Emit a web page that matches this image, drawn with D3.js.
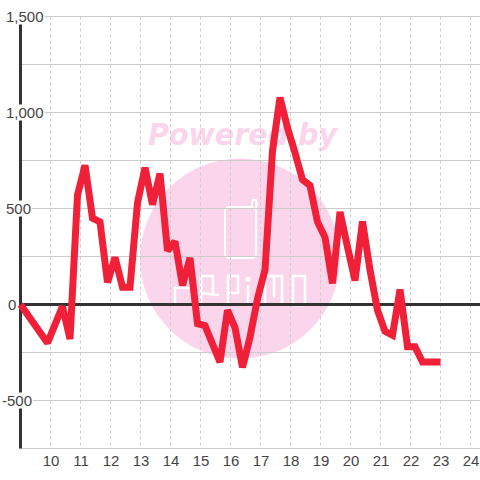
<!DOCTYPE html>
<html><head><meta charset="utf-8">
<script src="https://cdn.jsdelivr.net/npm/d3@7/dist/d3.min.js"></script>
<style>html,body{margin:0;padding:0;background:#fff}svg{display:block}text{font-family:"Liberation Sans",Arial,sans-serif}</style>
</head><body><svg id="c" width="480" height="480"></svg>
<script>
const hours=[9,9.9,10.4,10.65,10.9,11.15,11.4,11.65,11.9,12.15,12.4,12.65,12.9,13.15,13.4,13.65,13.9,14.15,14.4,14.65,14.9,15.15,15.65,15.9,16.15,16.4,16.65,16.9,17.15,17.4,17.65,17.9,18.15,18.4,18.65,18.9,19.15,19.4,19.65,19.9,20.15,20.4,20.65,20.9,21.15,21.4,21.65,21.9,22.15,22.4,22.65,23];
const values=[0,-200,-10,-180,570,725,450,430,115,245,90,90,530,712,520,682,280,328,100,243,-100,-110,-300,-30,-120,-328,-170,30,180,800,1078,920,790,650,620,430,350,110,482,300,125,432,180,-30,-140,-160,78,-220,-220,-300,-300,-300];
const xTicks=[10,11,12,13,14,15,16,17,18,19,20,21,22,23,24];
const yGrid=[1500,1250,1000,750,500,250,0,-250,-500,-750];
const yLabels=[1500,1000,500,0,-500];
const wmTitle="Powered by";

const svg=d3.select("#c");
const x=d3.scaleLinear().domain([9,25]).range([20.5,500.5]);
const y=d3.scaleLinear().domain([1500,-750]).range([16.5,448.5]);
const grid="#cccccc",ink="#333333",label="#444444",pink="#fbd5ec";

// watermark
const wm=svg.append("g");
wm.append("circle").attr("cx",240).attr("cy",258.5).attr("r",100).attr("fill",pink);
wm.append("text").attr("x",148).attr("y",145).attr("fill",pink)
  .style("font-family","'DejaVu Sans'").attr("font-size",30).attr("font-weight","bold").attr("font-style","italic")
  .attr("textLength",189).attr("lengthAdjust","spacingAndGlyphs").text(wmTitle);
wm.append("rect").attr("x",225).attr("y",207).attr("width",31).attr("height",51).attr("rx",4)
  .attr("fill","none").attr("stroke","#fff").attr("stroke-width",2);
wm.append("path").attr("d","M252 207V202a2.2 2.2 0 0 1 4.4 0V208").attr("fill",pink).attr("stroke","#fff").attr("stroke-width",2);
// stylised logotype, drawn as strokes
wm.append("path").attr("fill","none").attr("stroke","#fff").attr("stroke-width",2.6).attr("stroke-linejoin","round").attr("stroke-linecap","round")
  .attr("d","M175 303V288H193M201 303V276H213V293M201 293L218 295M228 303V276H238V293H228M248 286V303M265 303V276H282V303M274 276V296M293 276H305V305H293Z");
wm.append("circle").attr("cx",248).attr("cy",279).attr("r",2.6).attr("fill","#fff");

// grid
svg.append("g").selectAll("line").data(yGrid).join("line")
  .attr("x1",x(9)).attr("x2",480).attr("y1",d=>y(d)).attr("y2",d=>y(d))
  .attr("stroke",grid).attr("stroke-width",1);
svg.append("g").selectAll("line").data(xTicks).join("line")
  .attr("x1",d=>x(d)).attr("x2",d=>x(d)).attr("y1",y(1500)).attr("y2",y(-750))
  .attr("stroke",grid).attr("stroke-dasharray","3,3");

// axes lines
svg.append("line").attr("x1",x(9)).attr("x2",x(9)).attr("y1",y(1500)).attr("y2",y(-750)).attr("stroke",ink).attr("stroke-width",3);
svg.append("line").attr("x1",x(9)).attr("x2",480).attr("y1",y(0)).attr("y2",y(0)).attr("stroke",ink).attr("stroke-width",3);

// y labels with white backing
const fmt=d=>d3.format(",")(d).replace("\u2212","-");
const gy=svg.append("g").selectAll("g").data(yLabels).join("g")
  .attr("transform",d=>`translate(${d<0?2:(d===0?8:6)},${y(d)})`);
gy.append("text").attr("dy","0.35em").attr("font-size",15).attr("fill",label).text(d=>fmt(d))
  .each(function(){const b=this.getBBox();d3.select(this.parentNode).insert("rect","text")
    .attr("x",b.x).attr("y",-8).attr("width",b.width+1).attr("height",16).attr("fill","#fff");});

// x labels
svg.append("g").selectAll("text").data(xTicks).join("text")
  .attr("x",d=>x(d)+.5).attr("y",466).attr("text-anchor","middle")
  .attr("font-size",15).attr("fill",label).text(d=>d);

// series
const line=d3.line().x((d,i)=>x(hours[i])).y(d=>y(d));
svg.append("path").datum(values).attr("d",line).attr("fill","none").attr("stroke","#ef2037").attr("stroke-width",7).attr("stroke-miterlimit",2);
</script></body></html>
